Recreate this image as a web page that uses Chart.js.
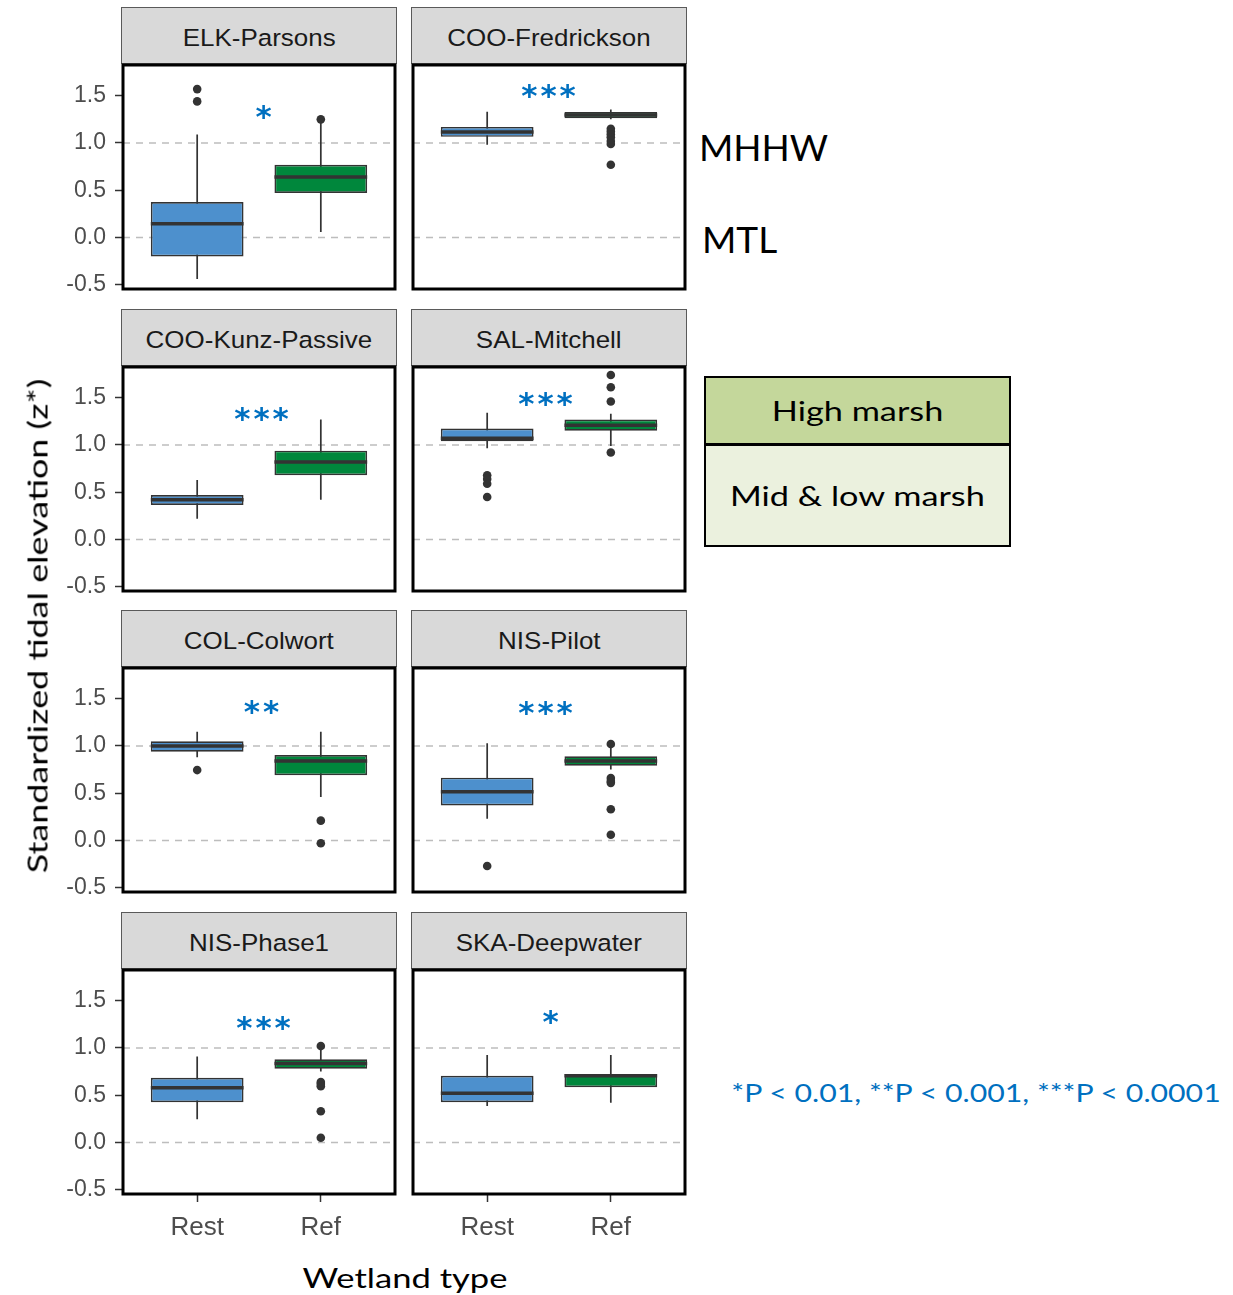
<!DOCTYPE html>
<html>
<head>
<meta charset="utf-8">
<script src="https://cdn.jsdelivr.net/npm/chart.js@4/dist/chart.umd.min.js"></script>
<style>
  html, body { margin: 0; padding: 0; background: #fff; }
  #fig { position: relative; width: 1233px; height: 1295px; overflow: hidden; }
  canvas { position: absolute; }
  .strip {
    position: absolute; box-sizing: border-box;
    background: #d9d9d9; border: 1.5px solid #5a5a5a;
    color: #1a1a1a; font: 24.5px 'Liberation Sans', Arial, sans-serif;
    display: flex; align-items: center; justify-content: center; padding-top: 4px;
  }
  .strip span { display: inline-block; transform: scaleX(1.06); }
  .txt { position: absolute; white-space: nowrap; font-family: Lato, 'Open Sans', sans-serif; color: #000; line-height: 1; }
  .sig { position: absolute; white-space: nowrap; color: #0070c0; line-height: 1;
         font-family: 'DejaVu Sans', sans-serif; font-weight: bold; transform: translate(-50%, -50%); }
  .cell { position: absolute; box-sizing: border-box; border: 2px solid #000;
          display: flex; align-items: center; justify-content: center;
          font: 27px Lato, sans-serif; color: #000; }
  .cell span { display: inline-block; transform: scaleX(1.27); }
</style>
</head>
<body>
<div id="fig"></div>
<script>
// Sites, in facet order (two columns, four rows)
const sites = ['ELK-Parsons', 'COO-Fredrickson', 'COO-Kunz-Passive', 'SAL-Mitchell',
               'COL-Colwort', 'NIS-Pilot', 'NIS-Phase1', 'SKA-Deepwater'];
const wetlandTypes = ['Rest', 'Ref'];

// Restoration (Rest) box statistics per site
const restLow  = [-0.44, 0.98, 0.22, 0.965, 0.88, 0.23, 0.245, 0.385];
const restQ1   = [-0.20, 1.065, 0.365, 1.04, 0.94, 0.37, 0.425, 0.425];
const restMed  = [0.145, 1.115, 0.42, 1.07, 1.00, 0.515, 0.58, 0.52];
const restQ3   = [0.375, 1.17, 0.47, 1.175, 1.05, 0.665, 0.685, 0.705];
const restHigh = [1.09, 1.33, 0.63, 1.34, 1.15, 1.03, 0.91, 0.925];
const restOutliers = [[1.57, 1.44], [], [], [0.68, 0.64, 0.59, 0.45], [0.745], [-0.27], [], []];

// Reference (Ref) box statistics per site
const refLow  = [0.057, 1.25, 0.42, 0.99, 0.46, 0.75, 0.75, 0.42];
const refQ1   = [0.47, 1.262, 0.68, 1.15, 0.69, 0.79, 0.78, 0.585];
const refMed  = [0.64, 1.295, 0.82, 1.21, 0.84, 0.84, 0.835, 0.705];
const refQ3   = [0.77, 1.328, 0.94, 1.27, 0.905, 0.89, 0.88, 0.725];
const refHigh = [1.22, 1.355, 1.27, 1.33, 1.15, 0.98, 0.99, 0.925];
const refOutliers = [[1.25], [1.15, 1.12, 1.09, 1.06, 1.02, 0.99, 0.77], [],
                     [1.74, 1.61, 1.46, 0.92], [0.21, -0.03],
                     [1.02, 0.66, 0.63, 0.61, 0.33, 0.06],
                     [1.02, 0.64, 0.62, 0.595, 0.33, 0.05], []];

// Significance of the Rest vs Ref difference per site
const significance = ['*', '***', '***', '***', '**', '***', '***', '*'];

// Axis ticks and the tidal datum lines (MTL = 0, MHHW = 1)
const yTicks = [-0.5, 0.0, 0.5, 1.0, 1.5];
const tidalDatums = [0, 1];
const Y_MIN = -0.545, Y_MAX = 1.825;
const X_MIN = 0.4, X_MAX = 2.6;

const REST_COLOR = '#4d90cd';
const REF_COLOR  = '#00873c';
const INK = '#333333';

// Facet geometry
const COL_LEFT = [123, 413];
const ROW_TOP  = [65, 367, 668, 970];
const PANEL_W = 272, PANEL_H = 224;

const fig = document.getElementById('fig');

const framePlugin = {
  id: 'panelFrame',
  afterDraw(chart) {
    const { ctx, chartArea: a } = chart;
    ctx.save();
    ctx.lineWidth = 3;
    ctx.strokeStyle = '#000';
    ctx.strokeRect(a.left, a.top, a.right - a.left, a.bottom - a.top);
    ctx.restore();
  }
};

function gapJoin(segments) {
  // join several two-point segments into one line series with gaps
  const out = [];
  segments.forEach((seg, k) => {
    if (k > 0) out.push({ x: seg[0].x, y: null });
    out.push(...seg);
  });
  return out;
}

function noEdgePadding(s) {
  s.paddingTop = 0; s.paddingBottom = 0; s.paddingLeft = 0; s.paddingRight = 0;
}

sites.forEach((site, i) => {
  const r = Math.floor(i / 2), c = i % 2;
  const yAxisW = c === 0 ? 110 : 8;
  const xAxisH = r === 3 ? 62 : 8;
  const padTop = 6, padRight = 6;
  const left = COL_LEFT[c], top = ROW_TOP[r];

  // strip label
  const strip = document.createElement('div');
  strip.className = 'strip';
  strip.style.left = (left - 2) + 'px';
  strip.style.top = (top - 58) + 'px';
  strip.style.width = (PANEL_W + 4) + 'px';
  strip.style.height = '57px';
  const sl = document.createElement('span');
  sl.textContent = site;
  strip.appendChild(sl);
  fig.appendChild(strip);

  const cv = document.createElement('canvas');
  const cw = yAxisW + PANEL_W + padRight, ch = padTop + PANEL_H + xAxisH;
  cv.width = cw; cv.height = ch;
  cv.style.width = cw + 'px'; cv.style.height = ch + 'px';
  cv.style.left = (left - yAxisW) + 'px';
  cv.style.top = (top - padTop) + 'px';
  fig.appendChild(cv);

  const half = 0.375;
  const datumLine = gapJoin(tidalDatums.map(v => [{ x: X_MIN, y: v }, { x: X_MAX, y: v }]));
  const whiskers = gapJoin([
    [{ x: 1, y: restLow[i] }, { x: 1, y: restHigh[i] }],
    [{ x: 2, y: refLow[i] }, { x: 2, y: refHigh[i] }]
  ]);
  const medians = gapJoin([
    [{ x: 1 - half, y: restMed[i] }, { x: 1 + half, y: restMed[i] }],
    [{ x: 2 - half, y: refMed[i] }, { x: 2 + half, y: refMed[i] }]
  ]);
  const outliers = restOutliers[i].map(v => ({ x: 1, y: v }))
    .concat(refOutliers[i].map(v => ({ x: 2, y: v })));

  new Chart(cv, {
    type: 'bar',
    data: {
      datasets: [
        {
          type: 'line', data: datumLine, borderColor: '#bdbdbd', borderWidth: 1.5,
          borderDash: [7, 6], pointRadius: 0, spanGaps: false, order: 6
        },
        {
          type: 'line', data: whiskers, borderColor: INK, borderWidth: 1.7,
          pointRadius: 0, spanGaps: false, order: 4
        },
        {
          type: 'bar',
          data: [{ x: 1, y: [restQ1[i], restQ3[i]] }, { x: 2, y: [refQ1[i], refQ3[i]] }],
          backgroundColor: [REST_COLOR, REF_COLOR], borderColor: INK, borderWidth: 1.7,
          borderSkipped: false, categoryPercentage: 1, barPercentage: 0.75, order: 3
        },
        {
          type: 'line', data: medians, borderColor: INK, borderWidth: 3.5,
          borderCapStyle: 'butt', pointRadius: 0, spanGaps: false, order: 2
        },
        {
          type: 'scatter', data: outliers, pointRadius: 4.3, pointBackgroundColor: INK,
          pointBorderWidth: 0, showLine: false, order: 1
        }
      ]
    },
    options: {
      responsive: false, animation: false, devicePixelRatio: 1,
      layout: { padding: { top: padTop, right: padRight, left: 0, bottom: 0 } },
      plugins: { legend: { display: false }, tooltip: { enabled: false } },
      scales: {
        x: {
          type: 'linear', min: X_MIN, max: X_MAX, offset: false,
          afterBuildTicks: s => { s.ticks = [{ value: 1 }, { value: 2 }]; },
          afterFit: s => { s.height = xAxisH; noEdgePadding(s); },
          ticks: {
            display: r === 3, autoSkip: false, maxRotation: 0, padding: 10,
            color: '#4d4d4d', font: { family: "'Liberation Sans', Arial", size: 26 },
            callback: v => wetlandTypes[Math.round(v) - 1]
          },
          grid: { display: r === 3, offset: false, drawOnChartArea: false, tickLength: 8, tickColor: INK, tickWidth: 1.5 },
          border: { display: false }
        },
        y: {
          min: Y_MIN, max: Y_MAX,
          afterBuildTicks: s => { s.ticks = yTicks.map(v => ({ value: v })); },
          afterFit: s => { s.width = yAxisW; noEdgePadding(s); },
          ticks: {
            display: c === 0, padding: 9, color: '#4d4d4d',
            font: { family: "'Liberation Sans', Arial", size: 23 },
            callback: v => v.toFixed(1)
          },
          grid: { display: c === 0, drawOnChartArea: false, tickLength: 8, tickColor: INK, tickWidth: 1.5 },
          border: { display: false }
        }
      }
    },
    plugins: [framePlugin]
  });
});

// significance stars above each panel pair
const sigPos = [[265, 116], [550, 95], [263, 418], [547, 403], [263, 711], [547, 712], [265, 1027], [552, 1021]];
significance.forEach((s, i) => {
  const d = document.createElement('div');
  d.className = 'sig';
  d.style.left = sigPos[i][0] + 'px';
  d.style.top = sigPos[i][1] + 'px';
  d.style.fontSize = '31px';
  d.style.letterSpacing = '3px';
  d.textContent = s;
  fig.appendChild(d);
});

function addText(txt, x, y, size, transform, color) {
  const d = document.createElement('div');
  d.className = 'txt';
  d.style.left = x + 'px';
  d.style.top = y + 'px';
  d.style.fontSize = size + 'px';
  if (transform) d.style.transform = transform;
  if (color) d.style.color = color;
  d.textContent = txt;
  fig.appendChild(d);
  return d;
}

// datum labels
addText('MHHW', 699, 128, 37);
addText('MTL', 702, 220, 37);

// axis titles
addText('Standardized tidal elevation (z*)', 37, 626, 27,
        'translate(-50%, -50%) rotate(-90deg) scaleX(1.33)');
addText('Wetland type', 405, 1277, 27, 'translate(-50%, -50%) scaleX(1.28)');

// marsh zone key
const key = [
  ['High marsh', 376, 69, '#c4d79b'],
  ['Mid & low marsh', 444, 103, '#ebf1de']
];
key.forEach(([label, y, h, fill]) => {
  const d = document.createElement('div');
  d.className = 'cell';
  d.style.left = '704px';
  d.style.top = y + 'px';
  d.style.width = '307px';
  d.style.height = h + 'px';
  d.style.background = fill;
  const s = document.createElement('span');
  s.textContent = label;
  d.appendChild(s);
  fig.appendChild(d);
});

addText('*P < 0.01, **P < 0.001, ***P < 0.0001', 976, 1092, 25,
        'translate(-50%, -50%) scaleX(1.21)', '#0070c0');
</script>
</body>
</html>
